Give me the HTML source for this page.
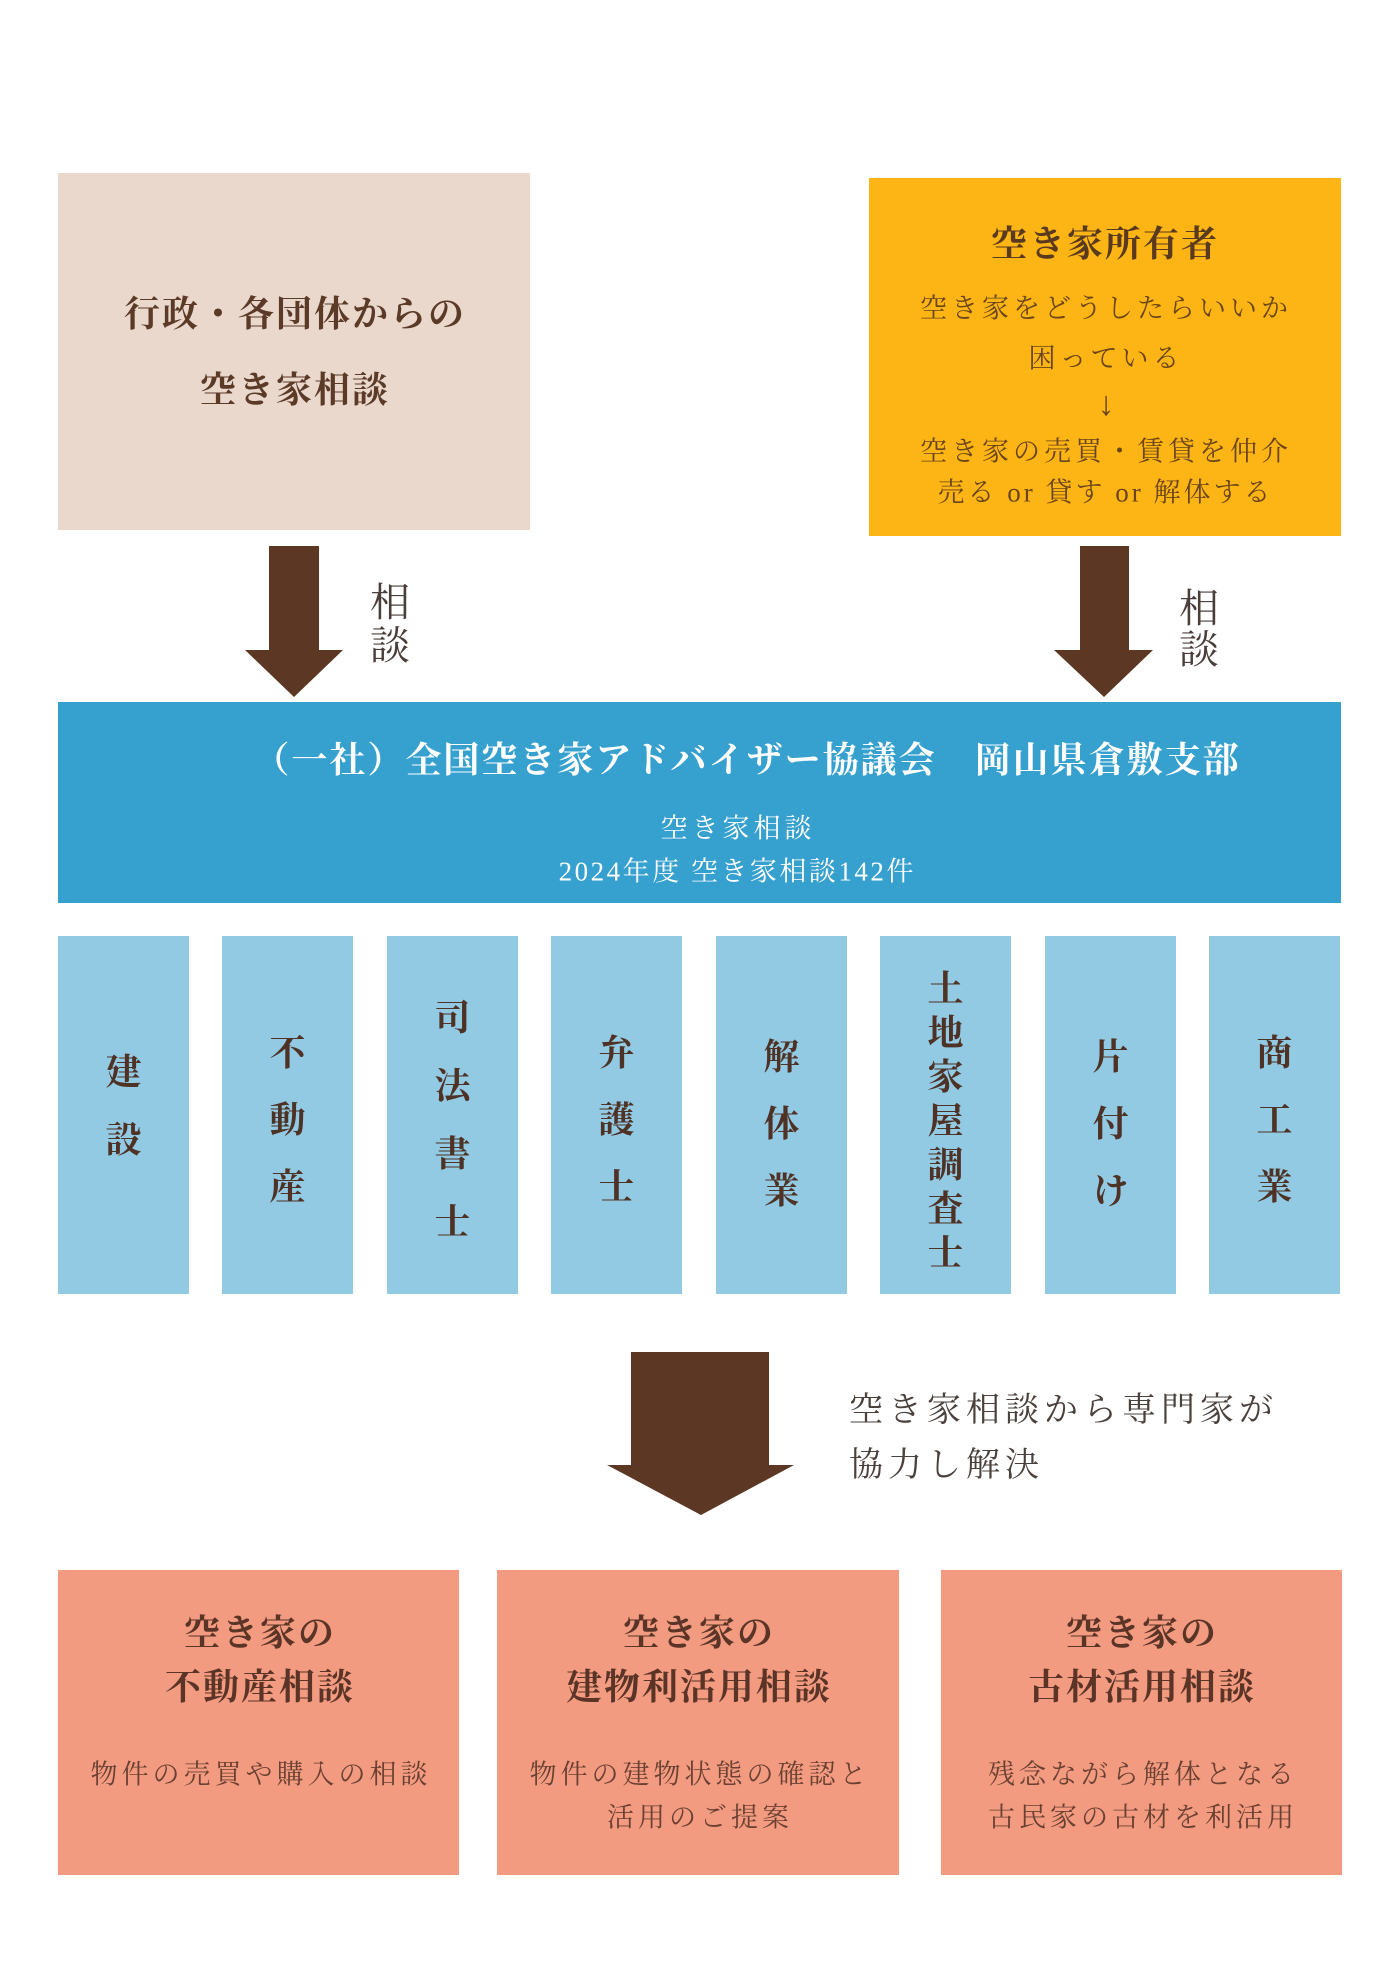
<!DOCTYPE html>
<html lang="ja">
<head>
<meta charset="utf-8">
<style>
  html, body { margin:0; padding:0; }
  body {
    width:1400px; height:1980px; position:relative; overflow:hidden; background:#ffffff;
    font-family:"Liberation Serif","Noto Serif CJK SC","Noto Serif CJK JP",serif;
  }
  .box { position:absolute; }
  .t {
    position:absolute; white-space:nowrap; line-height:1;
    transform:translate(-50%,-50%);
  }
  .h { font-weight:700; font-size:36px; letter-spacing:2px; padding-left:2px; color:#5B3A28; }
  .b { font-weight:400; font-size:27px; letter-spacing:4px; padding-left:4px; }
  .col { position:absolute; top:936px; width:131px; height:358px; background:#93CAE3; }
  .colt {
    position:absolute; left:0; width:100%; text-align:center;
    font-weight:700; font-size:36px; color:#4E3226;
  }
  .bot { position:absolute; top:1570px; height:305px; background:#F39B80; }
</style>
</head>
<body>

<!-- Top-left box -->
<div class="box" style="left:58px;top:173px;width:472px;height:357px;background:#EAD8CC;"></div>
<div class="t h" style="left:294px;top:314px;">行政・各団体からの</div>
<div class="t h" style="left:294px;top:390px;">空き家相談</div>

<!-- Top-right box -->
<div class="box" style="left:869px;top:178px;width:472px;height:358px;background:#FDB415;"></div>
<div class="t h" style="left:1104px;top:244px;color:#5A3A1E;">空き家所有者</div>
<div class="t b" style="left:1104px;top:309px;color:#6A4519;">空き家をどうしたらいいか</div>
<div class="t b" style="left:1104px;top:359px;color:#6A4519;">困っている</div>
<div class="t" style="left:1106px;top:405px;font-size:34px;color:#6A4519;">↓</div>
<div class="t b" style="left:1104px;top:452px;color:#6A4519;">空き家の売買・賃貸を仲介</div>
<div class="t b" style="left:1104px;top:493px;color:#6A4519;letter-spacing:3px;padding-left:3px;">売る or 貸す or 解体する</div>

<!-- Arrows -->
<svg width="1400" height="1980" style="position:absolute;left:0;top:0;">
  <polygon points="269,546 319,546 319,650 343,650 294,697 245,650 269,650" fill="#5B3724"/>
  <polygon points="1080,546 1129,546 1129,650 1153,650 1104,697 1054,650 1080,650" fill="#5B3724"/>
  <polygon points="631,1352 769,1352 769,1465 794,1465 701,1515 607,1465 631,1465" fill="#5B3724"/>
</svg>

<!-- 相談 labels -->
<div class="t" style="left:390px;top:603px;font-size:40px;color:#4A3E3A;">相</div>
<div class="t" style="left:390px;top:646px;font-size:40px;color:#4A3E3A;">談</div>
<div class="t" style="left:1199px;top:609px;font-size:40px;color:#4A3E3A;">相</div>
<div class="t" style="left:1199px;top:650px;font-size:40px;color:#4A3E3A;">談</div>

<!-- Banner -->
<div class="box" style="left:58px;top:702px;width:1283px;height:201px;background:#36A0CF;"></div>
<div class="t h" style="left:746px;top:760px;color:#ffffff;">（一社）全国空き家アドバイザー協議会　岡山県倉敷支部</div>
<div class="t b" style="left:736px;top:829px;color:#ffffff;">空き家相談</div>
<div class="t b" style="left:736px;top:872px;color:#ffffff;letter-spacing:2.5px;padding-left:2.5px;">2024年度 空き家相談142件</div>

<!-- Columns -->
<div class="col" style="left:58px;"><div class="colt" style="top:102px;line-height:68px;">建<br>設</div></div>
<div class="col" style="left:222px;"><div class="colt" style="top:84px;line-height:67px;">不<br>動<br>産</div></div>
<div class="col" style="left:387px;"><div class="colt" style="top:48px;line-height:68px;">司<br>法<br>書<br>士</div></div>
<div class="col" style="left:551px;"><div class="colt" style="top:84px;line-height:67px;">弁<br>護<br>士</div></div>
<div class="col" style="left:716px;"><div class="colt" style="top:88px;line-height:67px;">解<br>体<br>業</div></div>
<div class="col" style="left:880px;"><div class="colt" style="top:31px;line-height:44px;">土<br>地<br>家<br>屋<br>調<br>査<br>士</div></div>
<div class="col" style="left:1045px;"><div class="colt" style="top:88px;line-height:67px;">片<br>付<br>け</div></div>
<div class="col" style="left:1209px;"><div class="colt" style="top:84px;line-height:67px;">商<br>工<br>業</div></div>

<!-- Big arrow label -->
<div style="position:absolute;left:849px;top:1383px;font-size:34px;line-height:55px;letter-spacing:5px;color:#4A403C;white-space:nowrap;">空き家相談から専門家が<br>協力し解決</div>

<!-- Bottom boxes -->
<div class="bot" style="left:58px;width:401px;"></div>
<div class="bot" style="left:497px;width:402px;"></div>
<div class="bot" style="left:941px;width:401px;"></div>

<div class="t h" style="left:259px;top:1633px;color:#5A3426;">空き家の</div>
<div class="t h" style="left:259px;top:1687px;color:#5A3426;">不動産相談</div>
<div class="t b" style="left:259px;top:1775px;color:#6A4032;">物件の売買や購入の相談</div>

<div class="t h" style="left:698px;top:1633px;color:#5A3426;">空き家の</div>
<div class="t h" style="left:698px;top:1687px;color:#5A3426;">建物利活用相談</div>
<div class="t b" style="left:698px;top:1775px;color:#6A4032;">物件の建物状態の確認と</div>
<div class="t b" style="left:698px;top:1818px;color:#6A4032;">活用のご提案</div>

<div class="t h" style="left:1141px;top:1633px;color:#5A3426;">空き家の</div>
<div class="t h" style="left:1141px;top:1687px;color:#5A3426;">古材活用相談</div>
<div class="t b" style="left:1141px;top:1775px;color:#6A4032;">残念ながら解体となる</div>
<div class="t b" style="left:1141px;top:1818px;color:#6A4032;">古民家の古材を利活用</div>

</body>
</html>
